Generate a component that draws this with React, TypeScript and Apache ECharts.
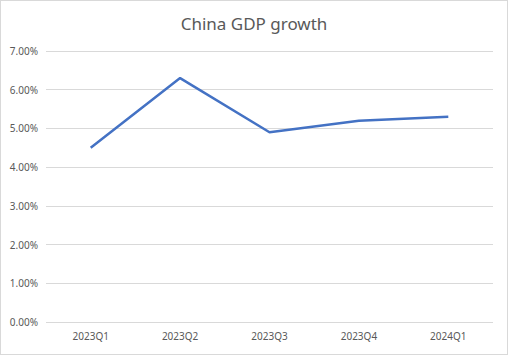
import React, { useEffect, useRef } from "react";
import * as echarts from "echarts";

const categories = ["2023Q1", "2023Q2", "2023Q3", "2023Q4", "2024Q1"];
const gdpGrowth = [4.5, 6.3, 4.9, 5.2, 5.3];
const titleText = "China GDP growth";

export default function App() {
  const ref = useRef<HTMLDivElement>(null);
  useEffect(() => {
    document.body.style.margin = "0";
    const chart = echarts.init(ref.current!, null, { renderer: "svg" });
    chart.setOption({
      animation: false,
      backgroundColor: "#ffffff",
      title: {
        text: titleText,
        left: "center",
        top: 9,
        textStyle: { color: "#595959", fontSize: 17, fontWeight: "normal", fontFamily: "Noto Sans" },
      },
      grid: { left: 45, right: 14, top: 50, bottom: 32 },
      xAxis: {
        type: "category",
        data: categories,
        boundaryGap: true,
        axisLine: { show: false },
        axisTick: { show: false },
        axisLabel: { color: "#595959", fontSize: 10, fontFamily: "Noto Sans", margin: 9 },
      },
      yAxis: {
        type: "value",
        min: 0,
        max: 7,
        interval: 1,
        axisLine: { show: false },
        axisTick: { show: false },
        splitLine: { lineStyle: { color: "#d9d9d9", width: 1 } },
        axisLabel: {
          color: "#595959",
          fontSize: 10,
          fontFamily: "Noto Sans",
          margin: 8,
          formatter: (v: number) => v.toFixed(2) + "%",
        },
      },
      series: [
        {
          type: "line",
          data: gdpGrowth,
          showSymbol: false,
          symbol: "none",
          lineStyle: { color: "#4472C4", width: 2.5 },
          itemStyle: { color: "#4472C4" },
        },
      ],
    });
    return () => chart.dispose();
  }, []);
  return (
    <div
      style={{
        position: "absolute",
        left: 0,
        top: 0,
        width: 508,
        height: 355,
        boxSizing: "border-box",
        border: "1px solid #d9d9d9",
      }}
    >
      <div ref={ref} style={{ width: 506, height: 353 }} />
    </div>
  );
}
